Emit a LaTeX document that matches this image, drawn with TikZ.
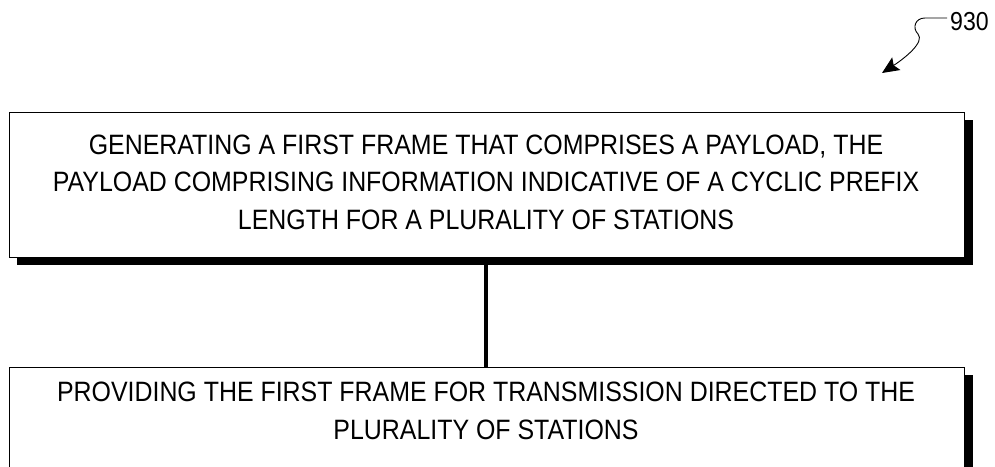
\documentclass[tikz,border=0pt]{standalone}
\usepackage{fontspec}
\setmainfont{Liberation Sans}
\newfontfamily\narrowfont{Liberation Sans}[FakeStretch=0.89]
\usetikzlibrary{arrows.meta}
\begin{document}
\begin{tikzpicture}[x=1pt,y=-1pt,
  stepbox/.style={draw=black, line width=1.2pt, fill=white, inner sep=0pt},
  steptext/.style={align=center, font=\narrowfont\fontsize{28}{37.5}\selectfont, inner sep=0pt},
  shadowbox/.style={fill=black},
  link/.style={line width=4pt}]
\useasboundingbox (0,0) rectangle (995,466);
% shadows
\fill[shadowbox] (17,120) rectangle (973,265);
\fill[shadowbox] (17,375) rectangle (973,475);
% boxes
\node[stepbox, minimum width=955pt, minimum height=145pt, anchor=north west] (b1) at (9,112) {};
\node[steptext] (t1) at (486,182) {GENERATING A FIRST FRAME THAT COMPRISES A PAYLOAD, THE\\PAYLOAD COMPRISING INFORMATION INDICATIVE OF A CYCLIC PREFIX\\LENGTH FOR A PLURALITY OF STATIONS};
\node[stepbox, minimum width=955pt, minimum height=100pt, anchor=north west] (b2) at (9,367) {};
\node[steptext] (t2) at (486,411) {PROVIDING THE FIRST FRAME FOR TRANSMISSION DIRECTED TO THE\\PLURALITY OF STATIONS};
\coordinate (c1) at (486,265);
\coordinate (c2) at (486,367);
\draw[link] (c1) -- (c2);
% reference label
\node[font=\narrowfont\fontsize{26}{26}\selectfont, anchor=west, inner sep=3pt] (lbl) at (947,22) {930};
\coordinate (s0) at (925,18);
\draw[line width=0.9pt, -{Stealth[length=17pt,width=15pt,inset=3pt]}] (lbl.west |- s0) -- (s0) .. controls (915,18) and (912,28) .. (918,34) .. controls (925,42) and (905,58) .. (882,73);
\end{tikzpicture}
\end{document}
